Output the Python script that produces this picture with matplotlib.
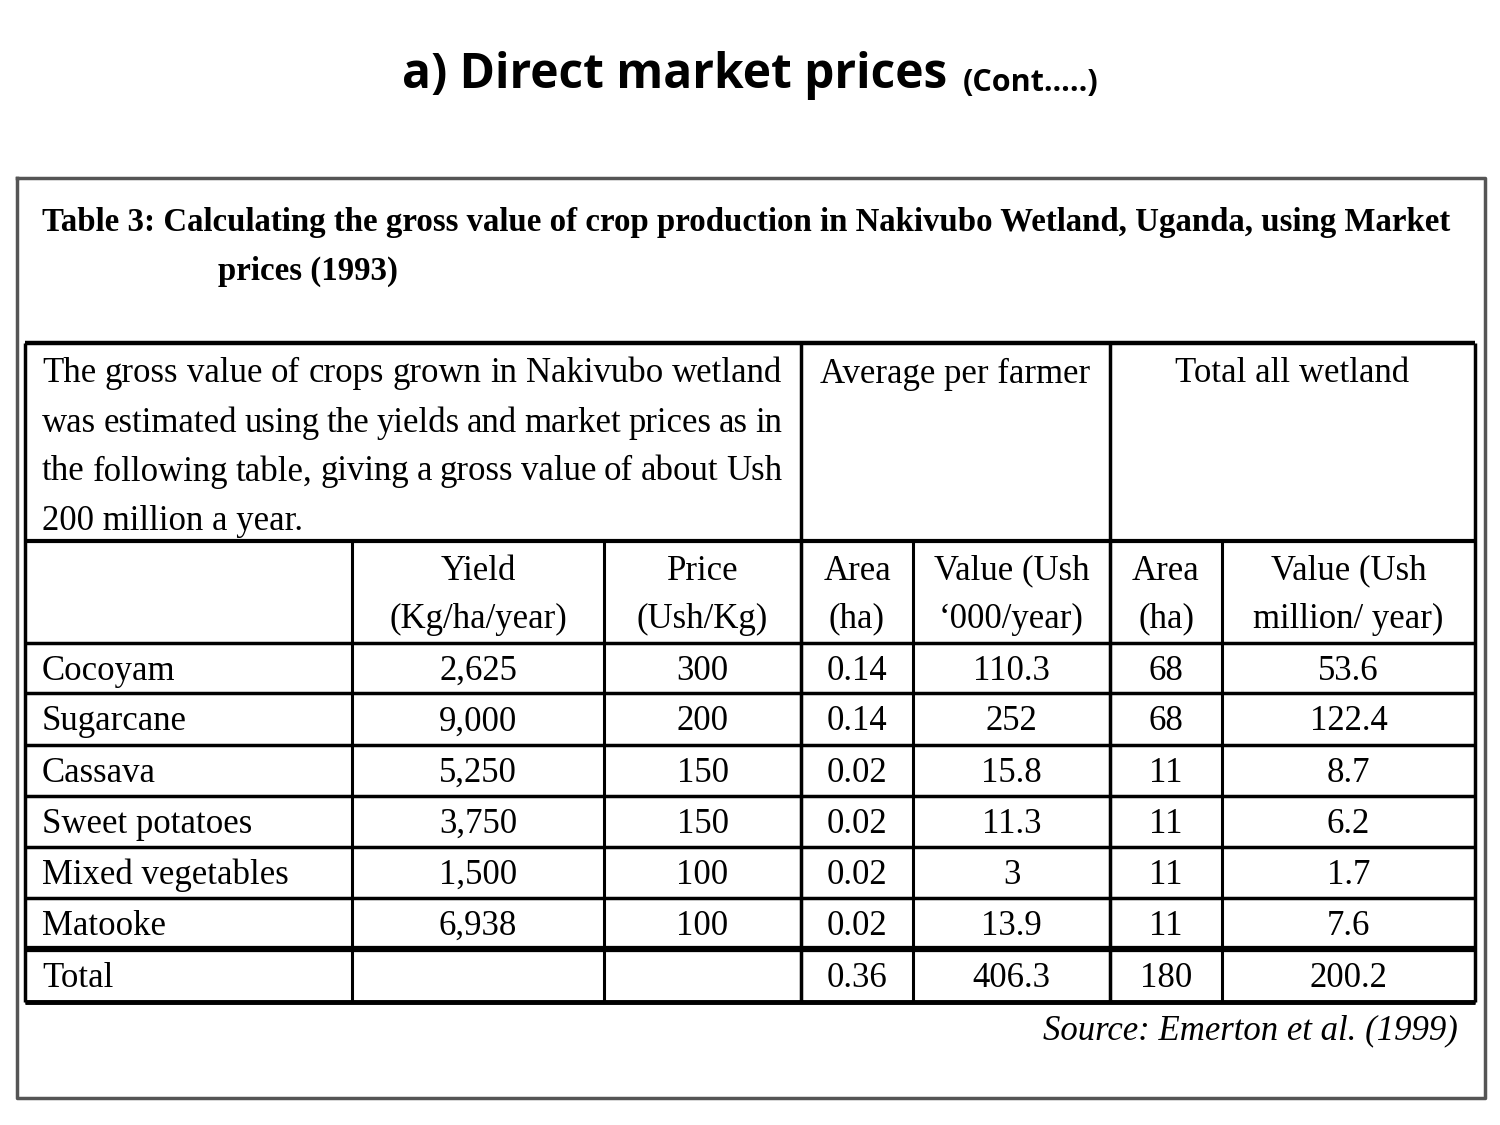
import matplotlib
matplotlib.use('Agg')
import matplotlib.pyplot as plt

# ---- data ----
title_main = 'a) Direct market prices'
title_small = '(Cont…..)'
table_title_1 = 'Table 3: Calculating the gross value of crop production in Nakivubo Wetland, Uganda, using Market'
table_title_2 = 'prices (1993)'
intro_lines = ['The gross value of crops grown in Nakivubo wetland',
               'was estimated using the yields and market prices as in',
               'the following table, giving a gross value of about Ush',
               '200 million a year.']
group_heads = ['Average per farmer', 'Total all wetland']
col_heads = ['', 'Yield\n(Kg/ha/year)', 'Price\n(Ush/Kg)', 'Area\n(ha)',
             'Value (Ush\n‘000/year)', 'Area\n(ha)', 'Value (Ush\nmillion/ year)']
crops = ['Cocoyam', 'Sugarcane', 'Cassava', 'Sweet potatoes', 'Mixed vegetables', 'Matooke', 'Total']
yield_kg = ['2,625', '9,000', '5,250', '3,750', '1,500', '6,938', '']
price = ['300', '200', '150', '150', '100', '100', '']
farm_area = ['0.14', '0.14', '0.02', '0.02', '0.02', '0.02', '0.36']
farm_value = ['110.3', '252', '15.8', '11.3', '3', '13.9', '406.3']
wet_area = ['68', '68', '11', '11', '11', '11', '180']
wet_value = ['53.6', '122.4', '8.7', '6.2', '1.7', '7.6', '200.2']
source = 'Source: Emerton et al. (1999)'

# ---- layout (pixels) ----
col_x = [25, 352, 604, 801, 913, 1110, 1222, 1475]
row_y = [643, 693, 745, 796, 847, 898, 949, 1002]
tab_top, head_top = 343, 541
serif = 'Liberation Serif'
fs = 25

fig = plt.figure(figsize=(15, 11.25), dpi=100)
ax = fig.add_axes([0, 0, 1, 1])
ax.set_xlim(0, 1500)
ax.set_ylim(1125, 0)
ax.axis('off')


def hline(y, x0, x1, lw=2.2):
    ax.plot([x0, x1], [y, y], color='black', lw=lw, solid_capstyle='butt')


def vline(x, y0, y1, lw=2.2):
    ax.plot([x, x], [y0, y1], color='black', lw=lw, solid_capstyle='butt')


# slide title
t1 = ax.text(0, 76, title_main, fontsize=34.5, fontweight='bold', family='Open Sans',
             va='center', ha='left')
t2 = ax.text(0, 83, title_small, fontsize=22, fontweight='bold', family='Open Sans',
             va='center', ha='left')
fig.canvas.draw()
r = fig.canvas.get_renderer()
w1 = t1.get_window_extent(r).width
w2 = t2.get_window_extent(r).width
start = 750 - (w1 + 15 + w2) / 2
t1.set_x(start)
t2.set_x(start + w1 + 15)

# outer frame
ax.plot([17, 1485, 1485, 17, 17], [178, 178, 1098, 1098, 178], color='#555555', lw=2.5)

# table title
ax.text(42, 222, table_title_1, fontsize=23.7, fontweight='bold', family=serif, va='center')
ax.text(218, 271, table_title_2, fontsize=23.7, fontweight='bold', family=serif, va='center')

# table grid
hline(tab_top, col_x[0], col_x[-1], 3.2)
hline(head_top, col_x[0], col_x[-1], 3)
for y in row_y:
    hline(y, col_x[0], col_x[-1], 2.5)
hline(row_y[-2], col_x[0], col_x[-1], 4.5)
hline(row_y[-1], col_x[0], col_x[-1], 3.5)
for x in [col_x[0], col_x[3], col_x[5], col_x[-1]]:
    vline(x, tab_top, row_y[-1], 2.5)
for x in col_x[1:-1]:
    vline(x, head_top, row_y[-1], 2.2)

# justified intro text
left, right = 42, 782
for i, line in enumerate(intro_lines):
    y = 374 + i * 49
    words = line.split()
    if i == len(intro_lines) - 1:
        ax.text(left, y, line, fontsize=fs, family=serif, va='center')
        continue
    objs = [ax.text(0, y, w, fontsize=fs, family=serif, va='center') for w in words]
    fig.canvas.draw()
    widths = [o.get_window_extent(r).width for o in objs]
    gap = (right - left - sum(widths)) / (len(words) - 1)
    x = left
    for o, w in zip(objs, widths):
        o.set_x(x)
        x += w + gap

# group headers
ax.text((col_x[3] + col_x[5]) / 2, 374, group_heads[0], fontsize=fs, family=serif,
        ha='center', va='center')
ax.text((col_x[5] + col_x[7]) / 2, 374, group_heads[1], fontsize=fs, family=serif,
        ha='center', va='center')

# column headers
for j, h in enumerate(col_heads):
    if not h:
        continue
    cx = (col_x[j] + col_x[j + 1]) / 2
    for k, part in enumerate(h.split('\n')):
        ax.text(cx, 571 + k * 48, part, fontsize=fs, family=serif, ha='center', va='center')

# body
cols = [yield_kg, price, farm_area, farm_value, wet_area, wet_value]
for i, crop in enumerate(crops):
    yc = (row_y[i] + row_y[i + 1]) / 2 + 3
    ax.text(42, yc, crop, fontsize=fs, family=serif, va='center')
    for j, col in enumerate(cols):
        cx = (col_x[j + 1] + col_x[j + 2]) / 2
        ax.text(cx, yc, col[i], fontsize=fs, family=serif, ha='center', va='center')

# source
ax.text(1458, 1031, source, fontsize=fs, family=serif, style='italic', ha='right', va='center')

fig.savefig('out.png', dpi=100)
